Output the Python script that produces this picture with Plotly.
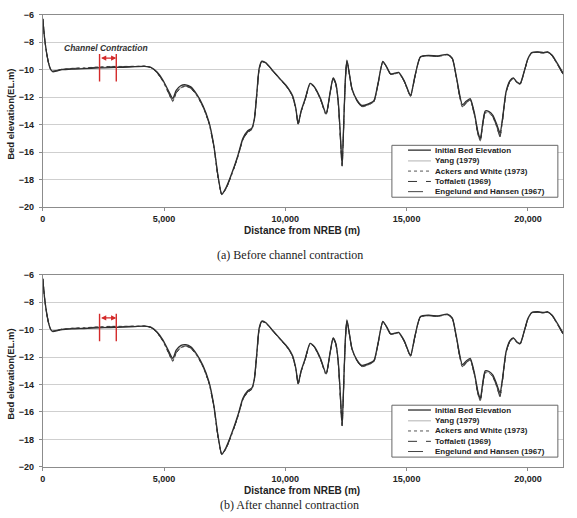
import plotly.graph_objects as go

distance = [0, 80, 160, 250, 330, 420, 550, 800, 1200, 1700,
            2300, 2800, 3300, 3800, 4200, 4450, 4700, 4950, 5200, 5360,
            5500, 5700, 5900, 6100, 6350, 6600, 6850, 7050, 7230, 7380,
            7550, 7800, 8050, 8250, 8450, 8620, 8720, 8820, 8920, 9030,
            9200, 9500, 9800, 10100, 10300, 10430, 10530, 10650, 10820, 11020,
            11200, 11450, 11680, 11850, 11970, 12080, 12180, 12260, 12340, 12420,
            12480, 12540, 12640, 12750, 12950, 13150, 13400, 13650, 13820, 14020,
            14180, 14340, 14520, 14670, 14900, 15160, 15350, 15570, 15900, 16300,
            16680, 16880, 17050, 17300, 17450, 17620, 17800, 17950, 18040, 18130,
            18240, 18400, 18550, 18700, 18850, 18950, 19100, 19260, 19400, 19550,
            19680, 19850, 20000, 20160, 20400, 20650, 20820, 21000, 21200, 21450]

initial_bed = [-6.3, -7.8, -8.8, -9.6, -10.0, -10.15, -10.1, -10.0, -9.95, -9.92,
               -9.87, -9.85, -9.82, -9.78, -9.75, -9.82, -10.15, -10.75, -11.6, -12.1,
               -11.5, -11.15, -11.1, -11.25, -11.8, -12.6, -13.8, -15.5, -17.8, -19.05,
               -18.6, -17.5, -16.2, -15.0, -14.45, -14.25, -13.6, -11.8, -9.9, -9.38,
               -9.5, -10.1, -10.7, -11.3, -11.9, -12.8, -13.9, -13.0, -12.1, -11.0,
               -11.25, -12.1, -13.2, -11.6, -10.6, -11.0, -12.3, -14.5, -16.9, -13.2,
               -10.5, -9.3, -10.3, -11.4, -12.2, -12.6, -12.5, -12.25, -11.0, -9.4,
               -9.8, -10.3, -10.25, -10.2, -10.8, -11.85, -10.4, -9.05, -8.95, -9.0,
               -8.88, -9.15, -10.5, -12.55, -12.3, -12.1, -13.2, -14.6, -15.0, -14.0,
               -13.0, -13.05, -13.3, -13.9, -14.6, -13.6, -11.6, -10.8, -10.6, -10.9,
               -11.0, -10.1, -9.2, -8.75, -8.7, -8.75, -8.7, -8.95, -9.5, -10.25]

yang_1979 = [-6.3, -7.8, -8.8, -9.6, -10.0, -10.12, -10.08, -9.98, -9.93, -9.9,
             -9.84, -9.8, -9.79, -9.77, -9.75, -9.83, -10.18, -10.8, -11.7, -12.25,
             -11.65, -11.27, -11.18, -11.32, -11.87, -12.66, -13.86, -15.55, -17.85, -19.08,
             -18.65, -17.56, -16.27, -15.08, -14.52, -14.32, -13.66, -11.85, -9.95, -9.4,
             -9.52, -10.12, -10.72, -11.33, -11.95, -12.85, -13.95, -13.05, -12.15, -11.03,
             -11.28, -12.15, -13.25, -11.65, -10.63, -11.04, -12.35, -14.6, -17.0, -13.3,
             -10.55, -9.32, -10.33, -11.43, -12.25, -12.65, -12.55, -12.3, -11.05, -9.42,
             -9.82, -10.32, -10.27, -10.22, -10.83, -11.9, -10.43, -9.07, -8.97, -9.02,
             -8.9, -9.17, -10.55, -12.65, -12.4, -12.18, -13.3, -14.7, -15.1, -14.1,
             -13.1, -13.12, -13.38, -14.0, -14.75, -13.7, -11.65, -10.83, -10.63, -10.93,
             -11.03, -10.12, -9.22, -8.77, -8.72, -8.77, -8.72, -8.98, -9.55, -10.3]

ackers_white_1973 = [-6.3, -7.8, -8.8, -9.6, -10.0, -10.1, -10.05, -9.96, -9.9, -9.86,
                     -9.8, -9.76, -9.76, -9.75, -9.74, -9.84, -10.2, -10.85, -11.78, -12.32,
                     -11.72, -11.32, -11.22, -11.36, -11.9, -12.7, -13.9, -15.6, -17.9, -19.1,
                     -18.7, -17.6, -16.3, -15.1, -14.56, -14.36, -13.7, -11.9, -10.0, -9.42,
                     -9.54, -10.14, -10.74, -11.36, -11.98, -12.9, -14.0, -13.08, -12.18, -11.05,
                     -11.3, -12.18, -13.3, -11.68, -10.65, -11.06, -12.4, -14.7, -17.1, -13.35,
                     -10.6, -9.34, -10.35, -11.45, -12.28, -12.7, -12.58, -12.33, -11.08, -9.44,
                     -9.84, -10.34, -10.3, -10.25, -10.86, -11.95, -10.46, -9.09, -8.99, -9.04,
                     -8.92, -9.2, -10.6, -12.72, -12.45, -12.22, -13.36, -14.8, -15.2, -14.15,
                     -13.15, -13.18, -13.45, -14.1, -14.9, -13.75, -11.7, -10.86, -10.66, -10.96,
                     -11.06, -10.14, -9.24, -8.79, -8.74, -8.79, -8.74, -9.0, -9.58, -10.35]

toffaleti_1969 = [-6.3, -7.8, -8.8, -9.6, -10.0, -10.11, -10.06, -9.97, -9.91, -9.87,
                  -9.82, -9.78, -9.77, -9.76, -9.75, -9.84, -10.2, -10.83, -11.74, -12.28,
                  -11.68, -11.3, -11.2, -11.34, -11.88, -12.68, -13.88, -15.58, -17.88, -19.09,
                  -18.68, -17.58, -16.28, -15.1, -14.54, -14.34, -13.68, -11.88, -9.98, -9.41,
                  -9.53, -10.13, -10.73, -11.35, -11.97, -12.88, -13.98, -13.06, -12.16, -11.04,
                  -11.29, -12.16, -13.28, -11.66, -10.64, -11.05, -12.38, -14.65, -17.05, -13.32,
                  -10.58, -9.33, -10.34, -11.44, -12.27, -12.68, -12.57, -12.32, -11.07, -9.43,
                  -9.83, -10.33, -10.29, -10.24, -10.85, -11.93, -10.45, -9.08, -8.98, -9.03,
                  -8.91, -9.19, -10.58, -12.7, -12.43, -12.2, -13.34, -14.76, -15.16, -14.12,
                  -13.12, -13.15, -13.42, -14.06, -14.85, -13.72, -11.68, -10.85, -10.65, -10.95,
                  -11.05, -10.13, -9.23, -8.78, -8.73, -8.78, -8.73, -8.99, -9.57, -10.33]

engelund_hansen_1967 = [-6.3, -7.8, -8.8, -9.6, -10.0, -10.11, -10.07, -9.97, -9.92, -9.88,
                        -9.83, -9.79, -9.78, -9.76, -9.75, -9.84, -10.19, -10.82, -11.72, -12.27,
                        -11.67, -11.29, -11.19, -11.33, -11.88, -12.67, -13.87, -15.57, -17.87, -19.08,
                        -18.67, -17.57, -16.28, -15.09, -14.53, -14.33, -13.67, -11.87, -9.97, -9.41,
                        -9.53, -10.13, -10.73, -11.34, -11.96, -12.87, -13.97, -13.06, -12.16, -11.04,
                        -11.29, -12.16, -13.27, -11.66, -10.64, -11.05, -12.37, -14.62, -17.02, -13.31,
                        -10.57, -9.33, -10.34, -11.44, -12.26, -12.67, -12.56, -12.31, -11.06, -9.43,
                        -9.83, -10.33, -10.28, -10.23, -10.84, -11.92, -10.44, -9.08, -8.98, -9.03,
                        -8.91, -9.18, -10.57, -12.68, -12.42, -12.19, -13.32, -14.74, -15.14, -14.11,
                        -13.11, -13.14, -13.4, -14.04, -14.82, -13.71, -11.67, -10.84, -10.64, -10.94,
                        -11.04, -10.13, -9.23, -8.78, -8.73, -8.78, -8.73, -8.99, -9.56, -10.32]

series_names = ["Initial Bed Elevation", "Yang (1979)", "Ackers and White (1973)",
                "Toffaleti (1969)", "Engelund and Hansen (1967)"]
series_values = [initial_bed, yang_1979, ackers_white_1973, toffaleti_1969, engelund_hansen_1967]
captions = ["(a) Before channel contraction", "(b) After channel contraction"]
contraction_start = 2340
contraction_end = 3030
x_ticks = [0, 5000, 10000, 15000, 20000]
y_ticks = [-20, -18, -16, -14, -12, -10, -8, -6]

styles = [dict(color="#2e2e2e", width=1.3, dash="solid"),
          dict(color="#c4c4c4", width=1.3, dash="solid"),
          dict(color="#555555", width=1.0, dash="dot"),
          dict(color="#333333", width=1.0, dash="dash"),
          dict(color="#444444", width=1.0, dash="longdash")]
draw_order = [1, 2, 3, 4, 0]

fig = go.Figure()
panels = [("x", "y", "xaxis", "yaxis"), ("x2", "y2", "xaxis2", "yaxis2")]
for xr, yr, _, _ in panels:
    for i in draw_order:
        fig.add_trace(go.Scatter(x=distance, y=series_values[i], mode="lines",
                                 name=series_names[i], xaxis=xr, yaxis=yr,
                                 line=dict(shape="spline", smoothing=0.6, **styles[i]),
                                 showlegend=False, hoverinfo="skip"))

W, H = 577, 518
px_left, px_right = 40, 563
panel_px = [(10, 206), (275, 471)]
caption_px = [255, 510]
tickfont = dict(family="Liberation Sans, Arial", size=9, color="#222", weight="bold")
grid_col = "#cfcfcf"
border_col = "#8c8c8c"

layout = dict(width=W, height=H, margin=dict(l=0, r=0, t=0, b=0),
              paper_bgcolor="white", plot_bgcolor="white", showlegend=False)
shapes, annos = [], []
for k, (xr, yr, xa, ya) in enumerate(panels):
    top, bot = panel_px[k]
    layout[xa] = dict(domain=[px_left / W, px_right / W], range=[0, 21450],
                      tickvals=x_ticks, tickformat=",d", tickfont=tickfont,
                      showgrid=False, showline=True, linecolor=border_col, linewidth=1,
                      mirror=True, ticks="outside", ticklen=3, tickcolor=border_col,
                      anchor=yr, zeroline=False)
    layout[ya] = dict(domain=[1 - bot / H, 1 - top / H], range=[-20, -6],
                      tickvals=y_ticks, tickfont=tickfont, ticklabelstandoff=3,
                      showgrid=True, gridcolor=grid_col, gridwidth=1,
                      showline=True, linecolor=border_col, linewidth=1, mirror=True,
                      ticks="outside", ticklen=3, tickcolor=border_col,
                      anchor=xr, zeroline=False)
    xd, yd = xr + " domain", yr + " domain"
    # contraction markers
    for xc in (contraction_start, contraction_end):
        shapes.append(dict(type="line", xref=xr, yref=yr, x0=xc, x1=xc, y0=-8.85, y1=-10.85,
                           line=dict(color="#d42a2a", width=1.4)))
    annos.append(dict(x=contraction_end, y=-9.15, ax=contraction_start, ay=-9.15,
                      xref=xr, yref=yr, axref=xr, ayref=yr, text="", showarrow=True,
                      arrowhead=2, arrowside="end+start", arrowsize=0.8, arrowwidth=1.3,
                      arrowcolor="#d42a2a"))
    # legend box
    shapes.append(dict(type="rect", xref=xd, yref=yd, x0=0.671, x1=0.990, y0=0.051, y1=0.321,
                       line=dict(color="#666666", width=1), fillcolor="white", layer="above"))
    rows = [0.296, 0.240, 0.187, 0.133, 0.080]
    for i in range(5):
        st = styles[i]
        shapes.append(dict(type="line", xref=xd, yref=yd, x0=0.702, x1=0.746,
                           y0=rows[i], y1=rows[i], layer="above",
                           line=dict(color=st["color"], width=st["width"], dash=st["dash"])))
        annos.append(dict(xref=xd, yref=yd, x=0.750, y=rows[i], text=series_names[i],
                          showarrow=False, xanchor="left", yanchor="middle",
                          font=dict(family="Liberation Sans, Arial", size=8, color="#222",
                                    weight="bold")))
    # axis titles
    annos.append(dict(xref="paper", yref="paper", x=301 / W, y=1 - (bot + 24) / H,
                      text="Distance from NREB (m)", showarrow=False,
                      xanchor="center", yanchor="middle",
                      font=dict(family="Liberation Sans, Arial", size=10, color="#222",
                                weight="bold")))
    annos.append(dict(xref="paper", yref="paper", x=8 / W, y=1 - (top + 101) / H,
                      text="Bed elevation(EL.m)", showarrow=False, textangle=-90,
                      xanchor="center", yanchor="middle",
                      font=dict(family="Liberation Sans, Arial", size=9.5, color="#222",
                                weight="bold")))
    # caption
    annos.append(dict(xref="paper", yref="paper", x=288 / W, y=1 - caption_px[k] / H,
                      text=captions[k], showarrow=False, xanchor="center", yanchor="middle",
                      font=dict(family="Liberation Serif, Times New Roman", size=12,
                                color="#222")))

annos.append(dict(xref="x", yref="y", x=2620, y=-8.45, text="<i>Channel Contraction</i>",
                  showarrow=False, xanchor="center", yanchor="middle",
                  font=dict(family="Liberation Sans, Arial", size=8.5, color="#333",
                            weight="bold")))

layout["shapes"] = shapes
layout["annotations"] = annos
fig.update_layout(**layout)
fig.write_html("out.html")
